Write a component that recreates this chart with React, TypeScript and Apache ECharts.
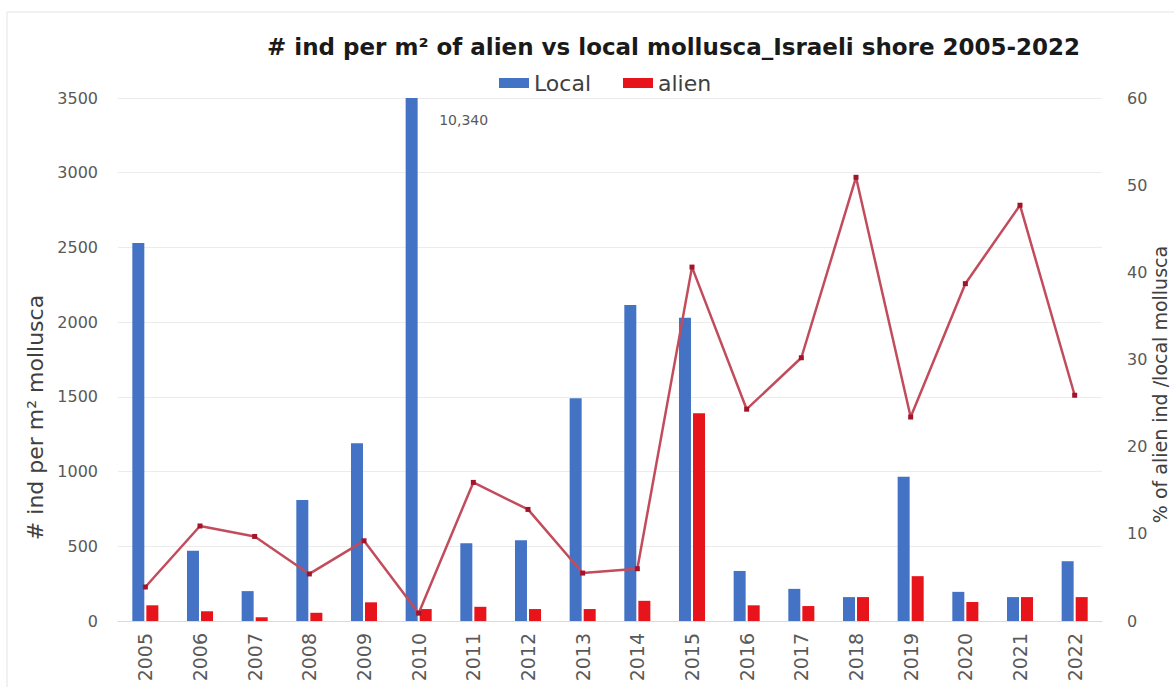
import React, { useEffect, useRef } from "react";
import * as echarts from "echarts";

const years = ["2005", "2006", "2007", "2008", "2009", "2010", "2011", "2012", "2013", "2014", "2015", "2016", "2017", "2018", "2019", "2020", "2021", "2022"];
const localValues = [2530, 470, 200, 810, 1190, 10340, 520, 540, 1490, 2115, 2030, 335, 215, 160, 965, 195, 160, 400];
const alienValues = [105, 65, 25, 55, 125, 80, 95, 80, 80, 135, 1390, 105, 100, 160, 300, 127, 160, 160];
const alienPct = [3.9, 10.9, 9.7, 5.4, 9.2, 0.9, 15.9, 12.8, 5.5, 6.0, 40.6, 24.3, 30.2, 50.9, 23.4, 38.7, 47.7, 25.9];
const leftTicks = { min: 0, max: 3500, interval: 500 };
const rightTicks = { min: 0, max: 60, interval: 10 };

const FONT = "DejaVu Sans";

export default function App() {
  const ref = useRef<HTMLDivElement>(null);
  useEffect(() => {
    if (!ref.current) return;
    const chart = echarts.init(ref.current, undefined, { renderer: "svg" });
    chart.setOption({
      animation: false,
      backgroundColor: "#ffffff",
      textStyle: { fontFamily: FONT },
      title: {
        text: "# ind per m² of alien vs local mollusca_Israeli shore 2005-2022",
        left: 262,
        top: 30,
        textStyle: { fontFamily: FONT, fontSize: 23, fontWeight: "bold", color: "#1a1a1a" },
      },
      legend: {
        data: ["Local", "alien"],
        left: 494,
        top: 67,
        icon: "rect",
        itemWidth: 30,
        itemHeight: 10,
        itemGap: 32,
        textStyle: { fontFamily: FONT, fontSize: 22, color: "#404040" },
      },
      graphic: [
        {
          type: "rect",
          shape: { x: 7, y: 12, width: 1400, height: 900 },
          style: { fill: "none", stroke: "#e4e4e4", lineWidth: 1 },
          silent: true,
          z: -10,
        },
      ],
      grid: { left: 118, right: 72, top: 98, bottom: 66, outerBoundsMode: "none", containLabel: false },
      xAxis: {
        type: "category",
        data: years,
        axisTick: { show: false },
        axisLine: { lineStyle: { color: "#d9d9d9" } },
        axisLabel: { rotate: 90, fontSize: 19, color: "#595959", margin: 12, fontFamily: FONT },
      },
      yAxis: [
        {
          type: "value",
          min: leftTicks.min,
          max: leftTicks.max,
          interval: leftTicks.interval,
          name: "# ind per m² mollusca",
          nameLocation: "middle",
          nameGap: 70,
          nameTextStyle: { fontSize: 22, color: "#404040", fontFamily: FONT, padding: [0, 116, 0, 0] },
          axisLine: { show: false },
          axisTick: { show: false },
          axisLabel: { fontSize: 16, color: "#595959", margin: 20, fontFamily: FONT, formatter: (v: number) => String(v) },
          splitLine: { lineStyle: { color: "#ececec" } },
        },
        {
          type: "value",
          position: "right",
          min: rightTicks.min,
          max: rightTicks.max,
          interval: rightTicks.interval,
          name: "% of alien ind /local mollusca",
          nameLocation: "middle",
          nameGap: 48,
          nameMoveOverlap: false,
          nameTextStyle: { fontSize: 19, color: "#404040", fontFamily: FONT, padding: [0, 50, 0, 0] },
          axisLine: { show: false },
          axisTick: { show: false },
          axisLabel: { fontSize: 16, color: "#595959", margin: 25, fontFamily: FONT },
          splitLine: { show: false },
        },
      ],
      series: [
        {
          name: "Local",
          type: "bar",
          data: localValues,
          barWidth: 12,
          barGap: "17%",
          clip: true,
          itemStyle: { color: "#4472C4" },
          markPoint: {
            symbol: "circle",
            symbolSize: 0,
            data: [{ coord: [years[5], leftTicks.max], value: localValues[5] }],
            label: {
              show: true,
              position: "inside",
              offset: [52, 22],
              formatter: "10,340",
              fontSize: 14,
              color: "#595959",
              fontFamily: FONT,
            },
          },
        },
        {
          name: "alien",
          type: "bar",
          data: alienValues,
          barWidth: 12,
          clip: true,
          itemStyle: { color: "#E8141C" },
        },
        {
          name: "% alien",
          type: "line",
          yAxisIndex: 1,
          data: alienPct,
          symbol: "rect",
          symbolSize: 5,
          lineStyle: { color: "#c24c5c", width: 2.5 },
          itemStyle: { color: "#a3142b" },
          z: 5,
        },
      ],
    });
    return () => chart.dispose();
  }, []);
  return <div ref={ref} style={{ position: "fixed", left: 0, top: 0, width: 1174, height: 687 }} />;
}
